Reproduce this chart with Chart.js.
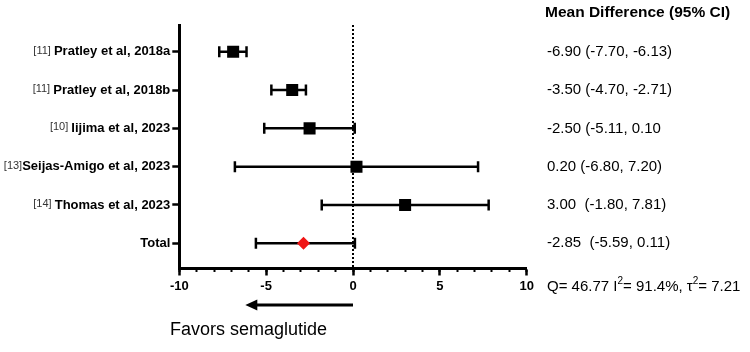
<!DOCTYPE html>
<html>
<head>
<meta charset="utf-8">
<script src="https://cdn.jsdelivr.net/npm/chart.js@4/dist/chart.umd.min.js"></script>
<style>
  html, body { margin: 0; padding: 0; background: #fff; }
  #wrap { width: 750px; height: 352px; }
</style>
</head>
<body>
<div id="wrap"><canvas id="forest"></canvas></div>
<script>
// study rows, top to bottom
const studies = ['Pratley et al, 2018a', 'Pratley et al, 2018b', 'Iijima et al, 2023',
  'Seijas-Amigo et al, 2023', 'Thomas et al, 2023', 'Total'];
const refs = ['[11] ', '[11] ', '[10] ', '[13]', '[14] ', ''];
const means = [-6.90, -3.50, -2.50, 0.20, 3.00, -2.85];
const lowers = [-7.70, -4.70, -5.11, -6.80, -1.80, -5.59];
const uppers = [-6.13, -2.71, 0.10, 7.20, 7.81, 0.11];
const ciText = ['-6.90 (-7.70, -6.13)', '-3.50 (-4.70, -2.71)', '-2.50 (-5.11, 0.10',
  '0.20 (-6.80, 7.20)', '3.00  (-1.80, 7.81)', '-2.85  (-5.59, 0.11)'];
const qStat = '46.77';
const i2 = '91.4%';
const tau2 = '7.21';
const arrowTo = -6.2; // arrow tip under the axis

const FONT = "'Liberation Sans', Arial, Helvetica, sans-serif";
const yMin = 0.3, yMax = 6.66;
const rows = studies.map((_, i) => i + 1);
const totalIdx = studies.length - 1;

const ciSets = rows.map((r, i) => ({
  data: [{ x: lowers[i], y: r }, { x: uppers[i], y: r }],
  showLine: true,
  borderColor: '#000',
  borderWidth: 2.5,
  pointStyle: 'line',
  pointRotation: 90,
  pointRadius: 5.5,
  pointBorderWidth: 2.5,
  pointBorderColor: '#000',
  order: 2,
}));

const annotations = {
  id: 'annotations',
  afterDraw(chart) {
    const { ctx, scales: { x, y } } = chart;
    ctx.save();
    ctx.textBaseline = 'middle';
    ctx.fillStyle = '#000';

    // reference numbers in front of the study names
    const labelRight = y.right - 9;
    studies.forEach((name, i) => {
      if (!refs[i]) return;
      ctx.font = 'bold 13px ' + FONT;
      const w = ctx.measureText(name).width;
      ctx.font = '11px ' + FONT;
      ctx.fillStyle = '#333';
      ctx.textAlign = 'right';
      ctx.fillText(refs[i], labelRight - w, y.getPixelForValue(rows[i]) - 1);
    });

    // right column
    ctx.fillStyle = '#000';
    ctx.textAlign = 'left';
    ctx.font = 'bold 15.5px ' + FONT;
    ctx.fillText('Mean Difference (95% CI)', 545, 13);
    ctx.font = '15px ' + FONT;
    ciText.forEach((t, i) => ctx.fillText(t, 547, y.getPixelForValue(rows[i])));

    // heterogeneity line with superscripts
    const parts = [['Q= ' + qStat + ' I', 0], ['2', 1], ['= ' + i2 + ', \u03C4', 0], ['2', 1], ['= ' + tau2, 0]];
    let px = 547;
    const qy = 287;
    parts.forEach(([t, sup]) => {
      ctx.font = (sup ? '10px ' : '15px ') + FONT;
      ctx.fillText(t, px, sup ? qy - 6 : qy);
      px += ctx.measureText(t).width;
    });

    // arrow
    const ay = 305;
    const a0 = x.getPixelForValue(0);
    const a1 = x.getPixelForValue(arrowTo);
    ctx.strokeStyle = '#000';
    ctx.lineWidth = 3;
    ctx.beginPath();
    ctx.moveTo(a0, ay);
    ctx.lineTo(a1 + 8, ay);
    ctx.stroke();
    ctx.beginPath();
    ctx.moveTo(a1, ay);
    ctx.lineTo(a1 + 12, ay - 5.5);
    ctx.lineTo(a1 + 12, ay + 5.5);
    ctx.closePath();
    ctx.fill();

    ctx.font = '18px ' + FONT;
    ctx.fillText('Favors semaglutide', 170, 330);
    ctx.restore();
  }
};

new Chart(document.getElementById('forest'), {
  type: 'scatter',
  data: {
    datasets: [
      {
        data: rows.slice(0, totalIdx).map((r, i) => ({ x: means[i], y: r })),
        pointStyle: 'rect',
        pointRadius: 8.5,
        pointBackgroundColor: '#000',
        pointBorderWidth: 0,
        order: 0,
      },
      {
        data: [{ x: means[totalIdx], y: rows[totalIdx] }],
        pointStyle: 'rectRot',
        pointRadius: 6.5,
        pointBackgroundColor: '#f01515',
        pointBorderWidth: 0,
        order: 0,
      },
      ...ciSets,
      {
        data: [{ x: 0, y: yMin }, { x: 0, y: yMax }],
        showLine: true,
        borderColor: '#000',
        borderWidth: 2,
        borderDash: [2, 2],
        pointRadius: 0,
        order: 3,
      },
    ],
  },
  options: {
    responsive: true,
    maintainAspectRatio: false,
    animation: false,
    layout: { padding: { left: 0, top: 25, right: 223.3, bottom: 0 } },
    plugins: { legend: { display: false }, tooltip: { enabled: false } },
    scales: {
      xMinor: {
        type: 'linear',
        position: 'bottom',
        weight: -1,
        min: -10,
        max: 10,
        ticks: { stepSize: 1, display: false },
        grid: { drawOnChartArea: false, tickLength: 3.5, tickWidth: 2, color: '#000' },
        border: { display: false },
        afterFit: (s) => { s.height = 0; },
      },
      x: {
        type: 'linear',
        position: 'bottom',
        min: -10,
        max: 10,
        ticks: { stepSize: 5, color: '#000', padding: 3, font: { family: FONT, size: 13, weight: 'bold' } },
        grid: { drawOnChartArea: false, tickLength: 7, tickWidth: 2.5, color: '#000' },
        border: { display: true, width: 3, color: '#000' },
        afterFit: (s) => { s.height = 83.5; },
      },
      y: {
        type: 'linear',
        reverse: true,
        min: yMin,
        max: yMax,
        afterBuildTicks: (s) => { s.ticks = rows.map((v) => ({ value: v })); },
        ticks: {
          color: '#000',
          padding: 2,
          font: { family: FONT, size: 13, weight: 'bold' },
          callback: (v) => studies[v - 1] || '',
        },
        grid: { drawOnChartArea: false, tickLength: 7, tickWidth: 2.5, color: '#000' },
        border: { display: true, width: 3, color: '#000' },
        afterFit: (s) => { s.width = 179.3; },
      },
    },
  },
  plugins: [annotations],
});
</script>
</body>
</html>
